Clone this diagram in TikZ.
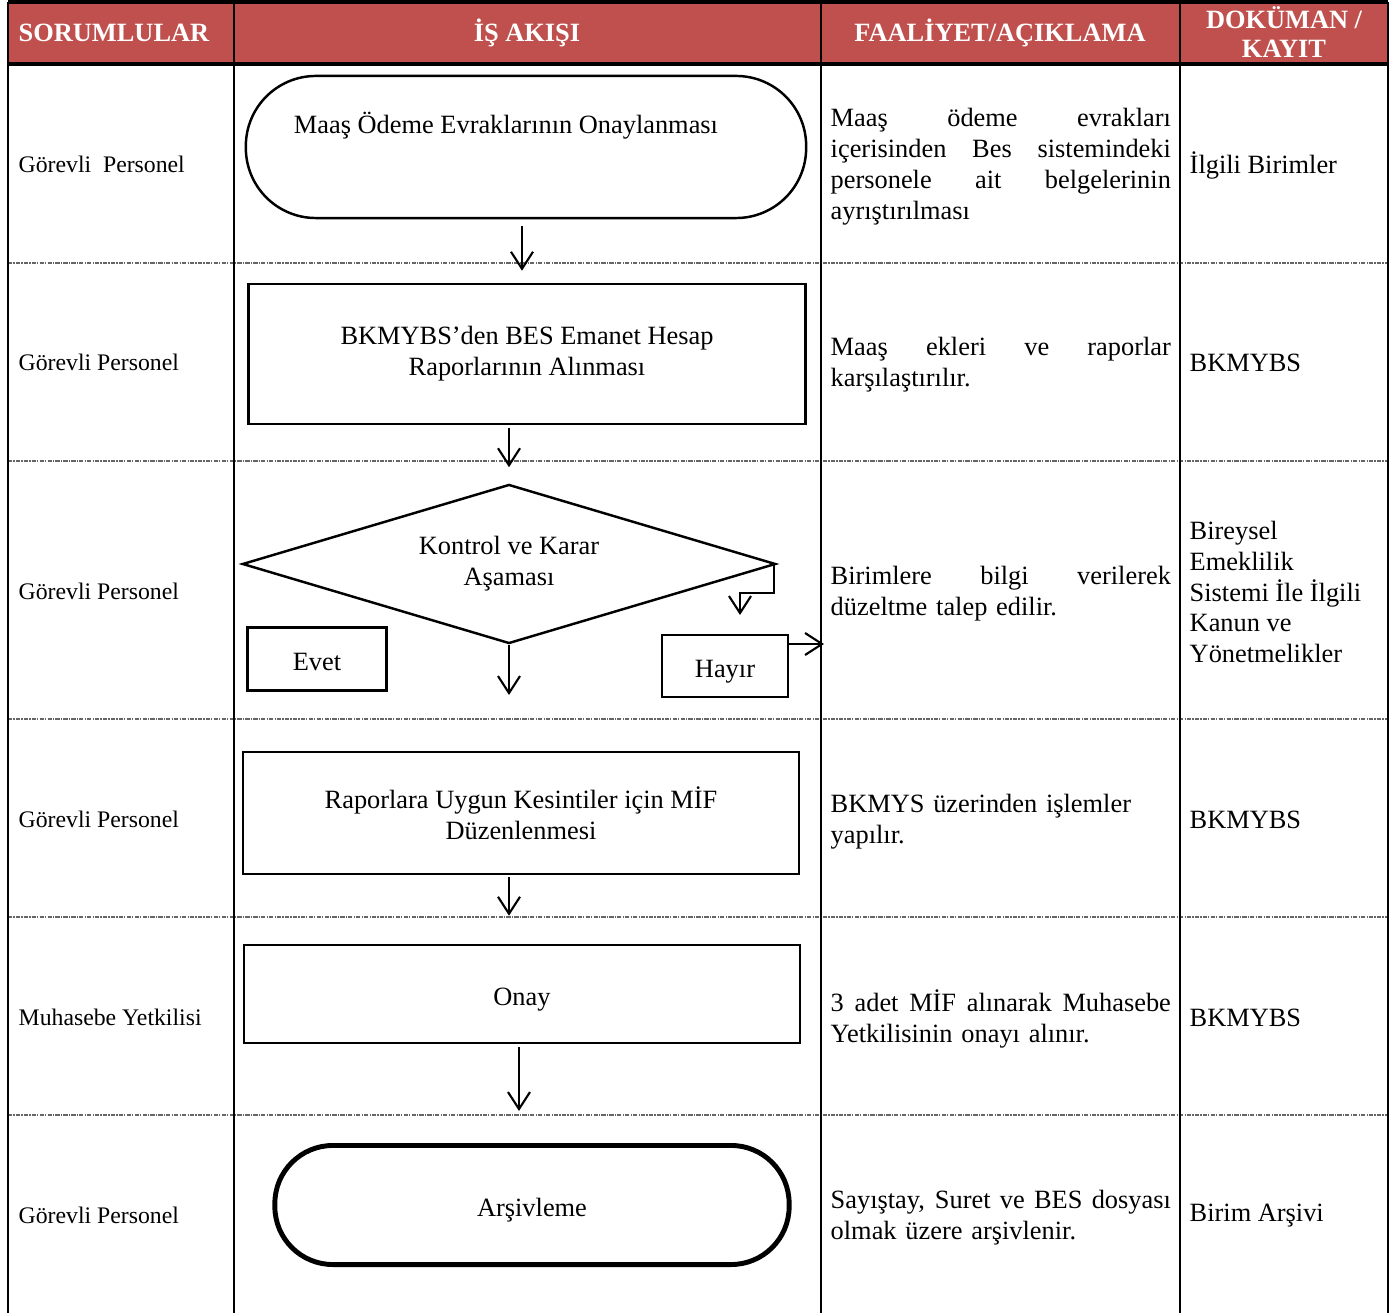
\documentclass[tikz,border=0pt]{standalone}
\usepackage{fontspec}
\setmainfont{Liberation Serif}
\usetikzlibrary{arrows.meta,shapes.geometric}
\definecolor{headred}{HTML}{C0504D}
\newcommand{\jline}[1]{\makebox[3.4cm][s]{\spaceskip=\fontdimen2\font plus 1fil #1}}
\tikzset{
  every node/.style={inner sep=0pt, font=\fontsize{7.5pt}{8.8pt}\selectfont},
  head/.style={text=white, align=center, font=\bfseries\fontsize{7.5pt}{8.2pt}\selectfont},
  who/.style={anchor=west, font=\fontsize{6.75pt}{8.8pt}\selectfont},
  note/.style={anchor=west, align=left, text width=3.4cm},
  doc/.style={anchor=west, align=left},
  flowbox/.style={draw, line width=0.7pt, align=center},
  choice/.style={draw, line width=0.6pt},
  lowtext/.style={text height=0.28cm, text depth=0.06cm},
  rowline/.style={black!60, line width=0.4pt, dash pattern=on 1.2pt off 0.35pt on 0.35pt off 0.35pt},
  colline/.style={black, line width=0.6pt},
  frame/.style={black, line width=0.9pt}
}
\begin{document}
\begin{tikzpicture}[x=0.01cm, y=-0.01cm]
  \useasboundingbox (0,0) rectangle (1397,1313);
  \fill[headred] (8,2) rectangle (1388,64);
  \draw[rowline] (8,263) -- (1388,263);
  \draw[rowline] (8,461) -- (1388,461);
  \draw[rowline] (8,719) -- (1388,719);
  \draw[rowline] (8,917) -- (1388,917);
  \draw[rowline] (8,1115) -- (1388,1115);
  \draw[colline] (8,2) -- (8,1313);
  \draw[colline] (234,2) -- (234,1313);
  \draw[colline] (821,2) -- (821,1313);
  \draw[colline] (1180,2) -- (1180,1313);
  \draw[colline] (1388,2) -- (1388,1313);
  \draw[frame] (8,2) -- (1388,2);
  \draw[frame] (8,64) -- (1388,64);

  \node[head, anchor=west] (h1) at (18,33) {SORUMLULAR};
  \node[head] (h2) at (527,33) {İŞ AKIŞI};
  \node[head] (h3) at (1000,33) {FAALİYET/AÇIKLAMA};
  \node[head] (h4) at (1284,32) {DOKÜMAN /\\KAYIT};

  \node[who] (w1) at (18,164) {Görevli~ Personel};
  \node[who] (w2) at (18,362) {Görevli Personel};
  \node[who] (w3) at (18,591) {Görevli Personel};
  \node[who] (w4) at (18,819) {Görevli Personel};
  \node[who] (w5) at (18,1017) {Muhasebe Yetkilisi};
  \node[who] (w6) at (18,1215) {Görevli Personel};

  \node[note] (n1) at (830,167) {\jline{Maaş ödeme evrakları}\\\jline{içerisinden Bes sistemindeki}\\\jline{personele ait belgelerinin}\\ayrıştırılması};
  \node[note] (n2) at (830,365) {\jline{Maaş ekleri ve raporlar}\\karşılaştırılır.};
  \node[note] (n3) at (830,594) {\jline{Birimlere bilgi verilerek}\\düzeltme talep edilir.};
  \node[note] (n4) at (830,822) {BKMYS üzerinden işlemler\\yapılır.};
  \node[note] (n5) at (830,1019) {\jline{3 adet MİF alınarak Muhasebe}\\Yetkilisinin onayı alınır.};
  \node[note] (n6) at (830,1218) {\jline{Sayıştay, Suret ve BES dosyası}\\olmak üzere arşivlenir.};

  \node[doc] (d1) at (1189,165) {İlgili Birimler};
  \node[doc] (d2) at (1189,363) {BKMYBS};
  \node[doc] (d3) at (1189,592) {Bireysel\\Emeklilik\\Sistemi İle İlgili\\Kanun ve\\Yönetmelikler};
  \node[doc] (d4) at (1189,820) {BKMYBS};
  \node[doc] (d5) at (1189,1018) {BKMYBS};
  \node[doc] (d6) at (1189,1216) {Birim Arşivi};

  \node[flowbox, rounded corners=0.7cm, minimum width=5.6cm, minimum height=1.42cm,
    text height=0.2cm, text depth=0.47cm] (start) at (526,147) {Maaş Ödeme Evraklarının Onaylanması\hspace*{0.4cm}};
  \node[flowbox, minimum width=5.57cm, minimum height=1.4cm] (rep) at (527,354)
    {BKMYBS’den BES Emanet Hesap\\Raporlarının Alınması};
  \node[flowbox, diamond, aspect=3.35, minimum width=5.33cm, minimum height=1.59cm] (dec) at (509,564)
    {Kontrol ve Karar\\Aşaması};
  \node[choice, lowtext, minimum width=1.39cm, minimum height=0.63cm] (evet) at (317,659) {Evet};
  \node[choice, lowtext, minimum width=1.26cm, minimum height=0.62cm] (hayir) at (725,666) {Hayır};
  \node[flowbox, minimum width=5.56cm, minimum height=1.22cm] (kes) at (521,813)
    {Raporlara Uygun Kesintiler için MİF\\Düzenlenmesi};
  \node[flowbox, lowtext, minimum width=5.56cm, minimum height=0.98cm] (onay) at (522,994) {Onay};
  \node[flowbox, lowtext, line width=1.4pt, rounded corners=0.58cm, minimum width=5.14cm, minimum height=1.19cm]
    (arch) at (532,1205) {Arşivleme};

  \coordinate (hin) at (740,615);
  \coordinate (hout) at (824,644);
  \coordinate (decout) at (509,695);
  \begin{scope}[-{Straight Barb[length=0.17cm, width=0.22cm]}, line width=0.6pt]
    \draw[shorten <=0.07cm, shorten >=0.12cm] ([xshift=-0.04cm]start.south) -- ([xshift=-0.04cm]start.south |- rep.north);
    \draw[shorten <=0.03cm, shorten >=0.16cm] (rep.south -| dec.north) -- (dec.north);
    \draw ([xshift=-0.03cm]dec.east) -- ++(0,29) -| (hin);
    \draw (hayir.north east |- hout) -- (hout);
    \draw (dec.south) -- (decout);
    \draw[shorten <=0.02cm, shorten >=0.28cm] (kes.south -| dec.south) -- (onay.north -| dec.south);
    \draw[shorten <=0.03cm, shorten >=0.32cm] ([xshift=-0.03cm]onay.south) -- ([xshift=-0.03cm]onay.south |- arch.north);
  \end{scope}
\end{tikzpicture}
\end{document}
